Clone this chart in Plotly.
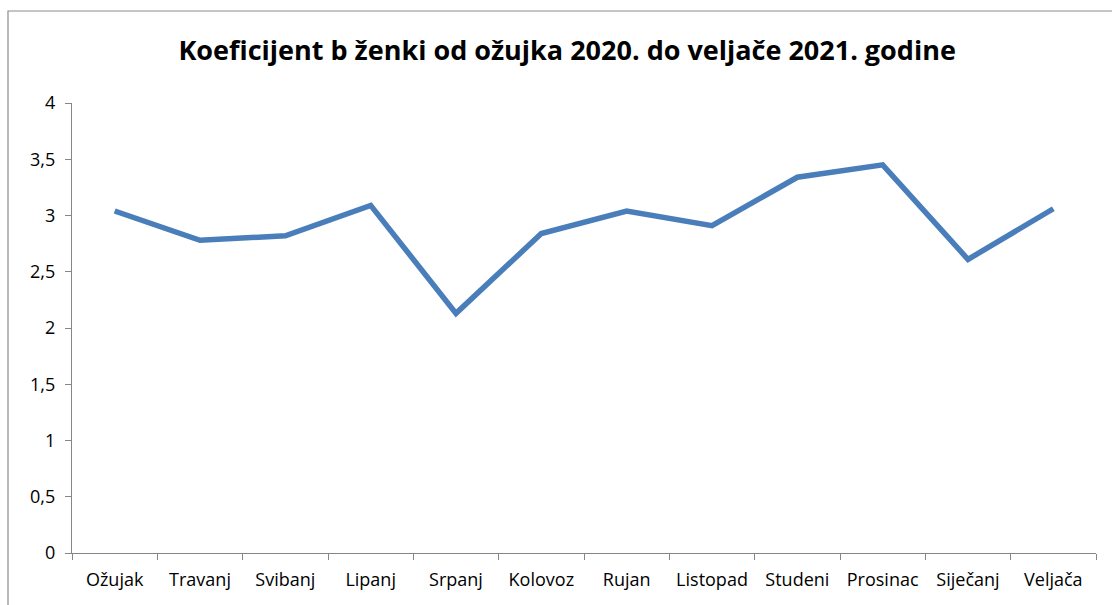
import plotly.graph_objects as go

months = ["Ožujak", "Travanj", "Svibanj", "Lipanj", "Srpanj", "Kolovoz",
          "Rujan", "Listopad", "Studeni", "Prosinac", "Siječanj", "Veljača"]
values = [3.04, 2.78, 2.82, 3.09, 2.13, 2.84, 3.04, 2.91, 3.34, 3.45, 2.61, 3.06]
y_ticks = [0, 0.5, 1, 1.5, 2, 2.5, 3, 3.5, 4]
y_labels = ["0", "0,5", "1", "1,5", "2", "2,5", "3", "3,5", "4"]

fig = go.Figure()
fig.add_trace(go.Scatter(
    x=months, y=values, mode="lines",
    line=dict(color="#4a7ebb", width=5.5),
    showlegend=False,
))

axis_color = "#868686"
fig.update_layout(
    width=1112, height=605,
    margin=dict(l=72, r=16, t=103, b=52),
    paper_bgcolor="white", plot_bgcolor="white",
    font=dict(family="Open Sans, Liberation Sans, sans-serif", size=18, color="#000000"),
    title=dict(
        text="<b>Koeficijent b ženki od ožujka 2020. do veljače 2021. godine</b>",
        x=0.51, xanchor="center", y=0.917, yanchor="middle",
        font=dict(size=27, family="Open Sans, sans-serif", color="#000000"),
    ),
    xaxis=dict(
        type="category", range=[-0.5, 11.5],
        showline=True, linecolor=axis_color, linewidth=1.3,
        ticks="outside", tickson="boundaries", ticklen=6, tickcolor=axis_color,
        showgrid=False, zeroline=False,
        tickfont=dict(size=18), ticklabelstandoff=10,
    ),
    yaxis=dict(
        range=[0, 4], tickvals=y_ticks, ticktext=y_labels,
        showline=True, linecolor=axis_color, linewidth=1.3,
        ticks="outside", ticklen=6, tickcolor=axis_color,
        showgrid=False, zeroline=False,
        tickfont=dict(size=18), ticklabelstandoff=6,
    ),
    shapes=[dict(
        type="rect", xref="paper", yref="paper",
        x0=-0.0625, x1=1.04, y0=-0.2, y1=1.2044,
        line=dict(color="#8c8c8c", width=1.2), fillcolor="rgba(0,0,0,0)",
        layer="below",
    )],
)

fig.write_html("out.html", config={"displayModeBar": False},
               post_script="document.body.style.margin='0';")
